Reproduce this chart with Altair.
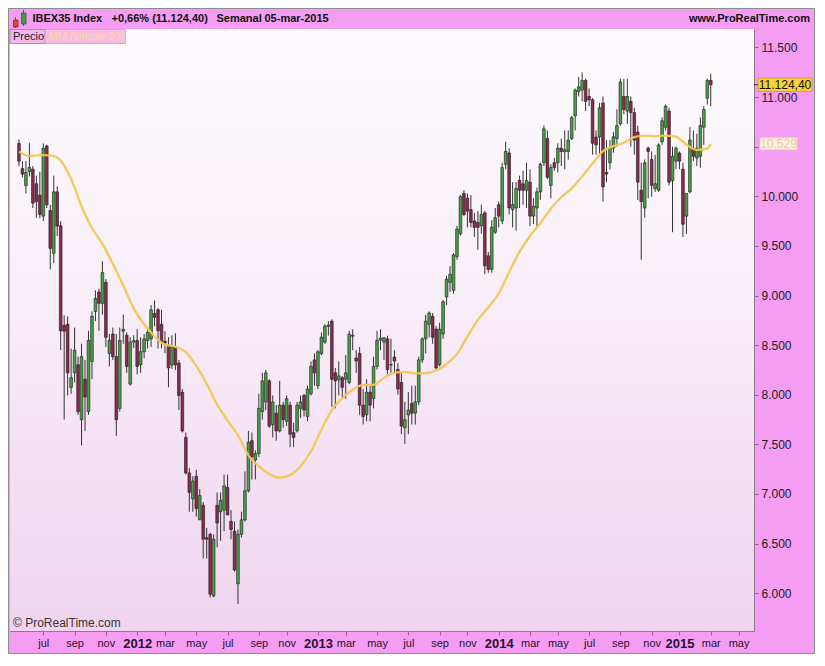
import altair as alt
import pandas as pd

# ------------------------------------------------------------------ data
first_week = "2011-05-13"   # weekly candles, one per week

opens = [
10533,10279,10110,10250,10273,10126,10012,9800,10507,9856,
9426,10045,9703,8700,8710,8074,8221,8302,7749,8156,
7830,8335,8840,9035,8921,9133,8417,8612,8384,7863,
8640,8600,8107,8530,8547,8303,8433,8547,8563,8820,
8856,8710,8540,8500,8300,8480,8319,8026,7570,7212,
6951,7179,6739,6886,6560,6593,5974,6886,6821,6837,
7065,6723,6625,6095,6593,6739,7032,7537,7342,7407,
7830,7928,8140,7700,7814,7635,7895,7732,7895,7618,
7635,7863,7993,7781,8010,8351,8091,8416,8530,8700,
8742,8221,8150,8172,8156,8124,8590,8370,8416,7895,
7798,8026,7960,8286,8550,8530,8563,8300,8380,8254,
8124,7667,7798,7912,7814,7928,8351,8563,8710,8791,
8661,8303,8612,8986,9133,9052,9394,9622,10028,9980,
9866,9752,9736,9703,9833,9400,9264,9638,9915,9752,
10322,10436,9866,9882,10159,10126,10061,10142,9800,9882,
10045,10338,10582,10110,10338,10338,10485,10450,10452,10582,
10810,11055,11071,11168,11006,10973,10598,10599,10940,10240,
10338,10485,10582,10729,11006,10859,10957,10843,10647,10061,
9882,10485,10371,10077,10061,10550,10696,10859,10159,10354,
10436,10273,9800,10045,10485,10387,10403,10696,10989,11168]

highs = [
10572,10354,10354,10540,10305,10208,10247,10533,10517,9914,
10208,10100,9750,8800,8790,8465,8677,8384,8514,8351,
8644,8840,9052,9068,9345,9166,8612,8677,8612,8677,
8807,8628,8580,8600,8661,8580,8612,8677,8905,8950,
8873,8856,8640,8580,8600,8620,8351,8058,7619,7260,
7179,7244,7049,6919,6658,6609,6593,7016,7016,7195,
7195,6837,6723,6642,6821,7228,7635,7619,7440,8009,
8221,8250,8156,7993,7895,8140,7928,7993,7928,7716,
7928,7993,8009,8091,8335,8416,8449,8628,8709,8742,
8760,8270,8335,8188,8400,8644,8660,8449,8481,8058,
8156,8091,8384,8644,8660,8580,8595,8563,8449,8319,
8221,7928,8026,8091,8091,8384,8579,8807,8840,8824,
8693,8726,8954,9198,9296,9426,9703,10012,10061,10028,
10012,9833,9850,9915,9850,9440,9760,9882,9947,10338,
10550,10485,10142,10142,10208,10257,10338,10270,9980,10088,
10338,10713,10664,10322,10387,10534,10582,10664,10664,10810,
11087,11201,11250,11185,11087,10989,10664,10940,11006,10566,
10566,10650,10876,11185,11185,11185,11006,10892,10712,10338,
10371,10501,10452,10419,10534,10794,10924,10892,10501,10501,
10452,10338,10028,10696,10664,10631,10794,10908,11185,11234]

lows = [
10305,10191,10028,10200,9882,9784,9778,9752,9882,9263,
9328,9600,8450,7750,7993,8009,8123,7797,7488,7635,
7797,8156,8742,8644,8807,8482,8286,8351,7586,7830,
8514,8221,8091,8470,8205,8221,8368,8466,8482,8690,
8466,8466,8420,8075,8260,8250,7847,7619,7196,6821,
6821,6772,6739,6349,6349,5958,5958,6462,6528,6625,
6788,6544,6218,5892,6560,6723,7016,7146,7146,7374,
7749,7846,7667,7570,7537,7619,7667,7684,7472,7472,
7619,7765,7781,7733,7993,8091,8058,8400,8514,8596,
7879,7863,7993,7960,7960,8107,8449,8221,7798,7700,
7733,7733,7863,8254,8449,8352,8205,8221,8221,8000,
7602,7505,7602,7700,7700,7895,8319,8417,8579,8514,
8254,8286,8563,8905,9035,9019,9361,9605,9800,9687,
9687,9589,9460,9622,9215,9230,9230,9622,9687,9720,
10273,9817,9687,9655,9882,9915,9882,9700,9720,9700,
9964,10305,10175,9980,10257,10240,10305,10273,10370,10566,
10664,11006,10957,10859,10908,10419,10419,10419,9947,10142,
10273,10440,10501,10713,10827,10729,10501,10420,9963,9361,
9784,9980,9996,10045,10045,10517,10664,10110,9638,10273,
10273,9589,9621,10029,10354,10305,10289,10517,10924,10908]

closes = [
10354,10224,10240,10290,9931,9947,9817,10484,9914,9475,
10045,9700,8644,8640,8221,8172,8449,7830,8384,7977,
8547,8791,8970,8921,9231,8579,8547,8384,7749,8547,
8660,8286,8531,8545,8286,8433,8563,8628,8856,8780,
8645,8531,8520,8270,8480,8300,7993,7635,7212,7016,
7130,6853,6984,6544,6544,5990,6544,6707,6935,7081,
6788,6642,6234,6593,6739,7032,7521,7374,7407,7863,
8140,8221,7684,7928,7635,7895,7749,7960,7602,7570,
7895,7928,7846,8058,8286,8221,8433,8580,8693,8690,
8156,8140,8190,8075,8221,8612,8600,8340,7895,7781,
8026,7895,8286,8547,8570,8575,8254,8305,8340,8058,
7684,7749,7846,7814,7928,8351,8563,8742,8824,8579,
8270,8661,8937,9166,9214,9410,9670,9996,9817,9850,
9735,9687,9687,9817,9300,9264,9687,9785,9800,10289,
10452,9882,9915,10078,10061,10061,10159,9800,9900,10045,
10322,10680,10191,10289,10289,10485,10452,10470,10566,10794,
11071,11103,11168,10957,10973,10534,10518,10892,10094,10224,
10485,10600,10712,11152,10875,11006,10843,10566,10142,9947,
10338,10452,10110,10126,10517,10761,10908,10142,10403,10485,
10354,9719,10028,10566,10403,10485,10713,10875,11168,11124]

# MM (simple 30), read every third week plus the last week
ma_values = [
10450,10405,10415,10412,10360,10175,9900,9680,9520,9320,
9100,8870,8710,8590,8505,8485,8430,8290,8110,7900,
7740,7590,7390,7280,7200,7165,7190,7280,7430,7650,
7846,7965,8050,8100,8100,8170,8220,8230,8215,8218,
8245,8310,8410,8585,8755,8880,9020,9235,9440,9600,
9730,9875,9990,10080,10200,10330,10455,10505,10540,10597,
10612,10605,10612,10600,10520,10468,10480,10529]

tick_dates = [(2011,7,1),(2011,9,2),(2011,11,4),(2012,1,6),(2012,3,2),(2012,5,4),
              (2012,7,6),(2012,9,7),(2012,11,2),(2013,1,4),(2013,3,1),(2013,5,3),
              (2013,7,5),(2013,9,6),(2013,11,1),(2014,1,3),(2014,3,7),(2014,5,2),
              (2014,7,4),(2014,9,5),(2014,11,7),(2015,1,2),(2015,3,6),(2015,5,1)]
price_ticks = [6000,6500,7000,7500,8000,8500,9000,9500,10000,10500,11000,11500]
hidden_tick = 10500          # its label sits under the MM price tag
last_price = [11124.40]
last_price_label = ["11.124,40"]
last_ma = [10529]
last_ma_label = ["10.529"]

# ------------------------------------------------------------------ layout
W, H = 744, 602
PAD = {"left": 2, "top": 21, "right": 61, "bottom": 23}
MAGENTA = "#f59df3"
GREEN = "#46a046"
RED = "#8c2a4c"

dates = pd.date_range(first_week, periods=len(closes), freq="7D").strftime("%Y-%m-%d")
candles = pd.DataFrame({"date": dates, "open": opens, "high": highs,
                        "low": lows, "close": closes})
ma_df = pd.DataFrame({"date": list(dates[::3]) + [dates[-1]], "ma": ma_values})
one = pd.DataFrame({"k": [0]})


def dt(y, m, d):
    return alt.DateTime(year=y, month=m, date=d, utc=True)


x_scale = alt.Scale(type="utc", domain=[dt(2011, 5, 5), dt(2015, 5, 22)])
months = "['ene','feb','mar','abr','may','jun','jul','ago','sep','oct','nov','dic']"
is_year = "utcmonth(datum.value) == 0"
x_axis = alt.Axis(
    values=[dt(*t) for t in tick_dates],
    labelExpr=f"{is_year} ? '' + utcyear(datum.value) : {months}[utcmonth(datum.value)]",
    labelFont="Liberation Sans Narrow, Liberation Sans, sans-serif",
    labelFontSize={"condition": {"test": is_year, "value": 13}, "value": 11},
    labelFontWeight={"condition": {"test": is_year, "value": "bold"}, "value": "normal"},
    labelColor="#2a1030", labelPadding=2, tickSize=4, tickColor="#8a6a8a",
    domain=False, grid=False, labelOverlap=False, labelFlush=False, labelBound=False,
    title=None)

y_scale = alt.Scale(domain=[5619, 11686], zero=False, nice=False)
y_axis = alt.Axis(
    orient="right", values=price_ticks,
    labelExpr=f"datum.value == {hidden_tick} ? '' : "
              "replace(format(datum.value, ',.0f'), ',', '.')",
    labelFont="Liberation Sans", labelFontSize=12, labelColor="#1a1a1a",
    tickSize=4, tickColor="#8a6a8a", labelPadding=3,
    domain=False, grid=False, title=None)

X = alt.X("date:T", scale=x_scale, axis=x_axis, title=None)


def Y(field):
    return alt.Y(field, scale=y_scale, axis=y_axis, title=None)


def text(t, x, y, size=11, weight="normal", color="#111111", align="left",
         font="Liberation Sans"):
    return alt.Chart(one).mark_text(
        text=t, fontSize=size, fontWeight=weight, color=color, align=align,
        baseline="middle", font=font).encode(x=alt.value(x), y=alt.value(y))


def box(x0, x1, y0, y1, fill, stroke, sw=0.8, fo=1):
    return alt.Chart(one).mark_rect(
        fill=fill, fillOpacity=fo, stroke=stroke, strokeWidth=sw).encode(
        x=alt.value(x0), x2=alt.value(x1), y=alt.value(y0), y2=alt.value(y1))


bg = alt.Chart(one).mark_rect(
    fill=alt.LinearGradient(
        gradient="linear", x1=0, x2=0, y1=0, y2=1,
        stops=[alt.GradientStop(color="#fefcfe", offset=0),
               alt.GradientStop(color="#f8eef8", offset=0.45),
               alt.GradientStop(color="#f0d4ef", offset=1)])
).encode(x=alt.value(0), x2=alt.value(W), y=alt.value(0), y2=alt.value(H))

wicks = alt.Chart(candles).mark_rule(color="#333333", strokeWidth=1).encode(
    x=X, y=Y("low:Q"), y2="high:Q")

bodies = alt.Chart(candles).mark_bar(size=2.7, stroke="#1b1b1b", strokeWidth=0.6).encode(
    x=X, y=Y("open:Q"), y2="close:Q",
    fill=alt.condition("datum.close >= datum.open", alt.value(GREEN), alt.value(RED)))

ma_line = alt.Chart(ma_df).mark_line(color="#f6c550", strokeWidth=2.3,
                                     interpolate="monotone", opacity=0.95).encode(
    x=X, y=Y("ma:Q"))

price_df = pd.DataFrame({"val": last_price, "label": last_price_label})
ma_tag_df = pd.DataFrame({"val": last_ma, "label": last_ma_label})

price_tick = alt.Chart(price_df).mark_rule(color="#222222", strokeWidth=1).encode(
    x=alt.value(W), x2=alt.value(W + 4), y=Y("val:Q"))
price_box = alt.Chart(price_df).transform_calculate(
    top="datum.val + 68", bot="datum.val - 68").mark_rect(
    fill="#f8d23a", stroke="#c09a28", strokeWidth=0.8).encode(
    x=alt.value(W + 4), x2=alt.value(W + 58), y=Y("top:Q"), y2="bot:Q")
price_text = alt.Chart(price_df).mark_text(
    font="Liberation Sans", fontSize=12, color="#111111", align="center",
    baseline="middle").encode(x=alt.value(W + 31), y=Y("val:Q"), text="label:N")

ma_box = alt.Chart(ma_tag_df).transform_calculate(
    top="datum.val + 60", bot="datum.val - 60").mark_rect(
    fill="#fdf0e2", stroke="#f0d898", strokeWidth=0.8).encode(
    x=alt.value(W + 6), x2=alt.value(W + 43), y=Y("top:Q"), y2="bot:Q")
ma_text = alt.Chart(ma_tag_df).mark_text(
    font="Liberation Sans", fontSize=12, color="#f0c6a6", align="center",
    baseline="middle").encode(x=alt.value(W + 24.5), y=Y("val:Q"), text="label:N")

TY = -10.5
decor = [
    # title icon
    box(5.5, 5.5, -12, -1, "#333333", "#555555", 0.8),
    box(3.5, 8, -9, -2, "#e04848", "#6a2020", 0.7),
    box(13.5, 13.5, -19, -3, "#333333", "#555555", 0.8),
    box(11.5, 16, -16, -5, "#3fa03f", "#1f5a1f", 0.7),
    text("IBEX35 Index", 22.5, TY, 11, "bold"),
    text("+0,66% (11.124,40)", 101.5, TY, 11, "bold"),
    text("Semanal", 206.5, TY, 11, "bold"),
    text("05-mar-2015", 254.5, TY, 11, "bold"),
    text("www.ProRealTime.com", W + 56, TY, 11, "bold", align="right"),
    # legend row
    box(0, 35, 0.5, 14.5, "#f4b6ef", "#9a7a9a", 0.8),
    text("Precio", 3, 8, 11, color="#222222"),
    box(35, 115.5, 0.5, 14.5, "#f7bce2", "#c0a0c0", 0.8),
    text("MM (simple 30)", 38.5, 8, 11, color="#fbd6ac"),
    # copyright
    text("\u00a9 ProRealTime.com", 3, H - 8, 12, color="#333333"),
    # outer frame
    box(-1.5, W + 60.5, -20.5, H + 22.5, "#ffffff", "#8c8c8c", 1, 0),
]

chart = alt.layer(
    bg, wicks, bodies, ma_line, price_tick, price_box, price_text, ma_box, ma_text,
    *decor
).properties(
    width=W, height=H, padding=PAD,
    autosize=alt.AutoSizeParams(type="none"),
    background=MAGENTA,
).configure_view(stroke="#8d7a8d", strokeWidth=1)

chart.save("out.html", embed_options={"renderer": "svg", "actions": False})
